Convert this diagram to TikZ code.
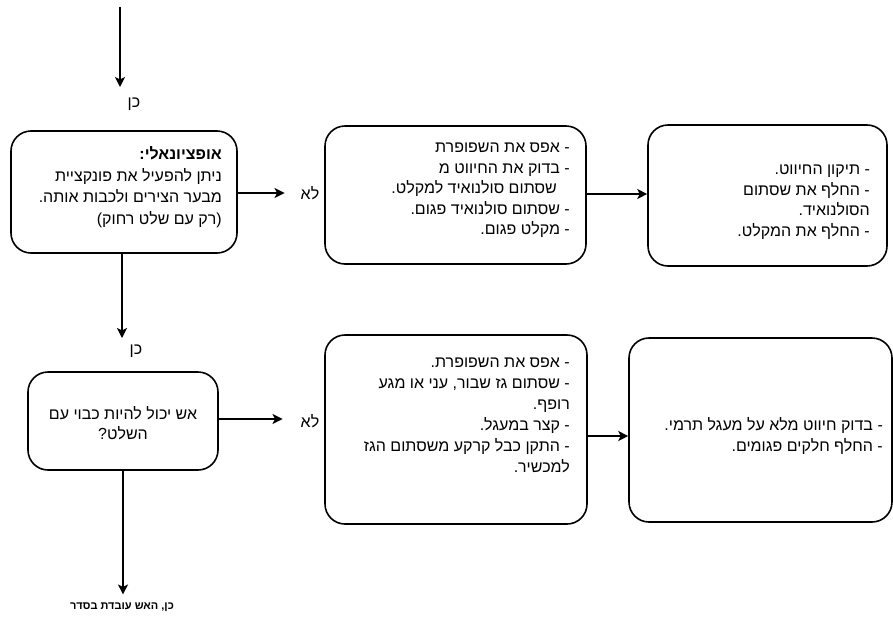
\documentclass[tikz,border=0pt]{standalone}
\usepackage{fontspec}
\setmainfont{Liberation Sans}[Script=Hebrew]
\TeXXeTstate=1
\usetikzlibrary{arrows.meta}
\tikzset{
  box/.style={draw, line width=1.6pt, rounded corners=20pt, inner sep=0pt},
  txt/.style={font=\fontsize{16}{20.5}\selectfont, align=right, inner sep=0pt, anchor=north east},
  ctxt/.style={font=\fontsize{16}{20.5}\selectfont, align=center, inner sep=0pt},
  lab/.style={font=\fontsize{16}{19}\selectfont, inner sep=0pt},
  conn/.style={line width=1.5pt, -{Stealth[length=10pt,width=10pt,inset=2.5pt]}},
  thick conn/.style={line width=2.6pt, -{Stealth[length=10pt,width=10pt,inset=2.5pt]}}
}
\begin{document}
\begin{tikzpicture}[x=1pt,y=-1pt]
\useasboundingbox (0,0) rectangle (893,624);
% boxes
\node[box, minimum width=226pt, minimum height=122pt] (b1) at (124,192) {};
\node[box, minimum width=261pt, minimum height=138pt] (b2) at (455.5,195) {};
\node[box, minimum width=239pt, minimum height=141pt] (b3) at (767.5,195.5) {};
\node[box, minimum width=190pt, minimum height=98pt] (b4) at (123,421) {};
\node[box, minimum width=262pt, minimum height=189pt] (b5) at (456,429.5) {};
\node[box, minimum width=263pt, minimum height=184pt] (b6) at (760.5,430) {};
% texts
\node[txt, font=\fontsize{16}{21.7}\selectfont] (t1) at (222,144) {\strut\beginR\textbf{אופציונאלי:}\endR\\
\beginR ניתן להפעיל את פונקציית\endR\\
\beginR מבער הצירים ולכבות אותה.\endR\\
\beginR(רק עם שלט רחוק)\endR};
\node[txt] (t2) at (570,138) {\strut\beginR - אפס את השפופרת\endR\\
\beginR - בדוק את החיווט מ\endR\\
\beginR\hspace*{13pt}שסתום סולנואיד למקלט.\endR\\
\beginR - שסתום סולנואיד פגום.\endR\\
\beginR - מקלט פגום.\endR};
\node[txt] (t3) at (870,160) {\strut\beginR - תיקון החיווט.\endR\\
\beginR - החלף את שסתום\endR\\
\beginR הסולנואיד.\endR\\
\beginR - החלף את המקלט.\endR};
\node[ctxt] (t4) at (123,423) {\beginR אש יכול להיות כבוי עם\endR\\
\beginR השלט?\endR};
\node[txt, font=\fontsize{16}{21}\selectfont] (t5) at (570,353) {\strut\beginR - אפס את השפופרת.\endR\\
\beginR - שסתום גז שבור, עני או מגע\endR\\
\beginR רופף.\endR\\
\beginR - קצר במעגל.\endR\\
\beginR - התקן כבל קרקע משסתום הגז\endR\\
\beginR למכשיר.\endR};
\node[txt] (t6) at (883,416) {\strut\beginR - בדוק חיווט מלא על מעגל תרמי.\endR\\
\beginR - החלף חלקים פגומים.\endR};
% labels
\node[lab] (yes1) at (134,104) {\beginR כן\endR};
\node[lab] (no1) at (310,193) {\beginR לא\endR};
\node[lab] (yes2) at (136,351) {\beginR כן\endR};
\node[lab] (no2) at (310,421) {\beginR לא\endR};
\node[font=\fontsize{11}{13}\selectfont\bfseries, inner sep=0pt] (done) at (122,607) {\beginR כן, האש עובדת בסדר\endR};
\coordinate (start) at (120,7);
% connectors
\draw[conn] (start) -- (start |- 0,87);
\draw[conn] (b1.east |- no1) -- ([xshift=-16pt]no1.west |- no1);
\draw[conn] (b2.east |- 0,194) -- (b3.west |- 0,194);
\draw[conn] (b1.south -| 122,0) -- (122,338);
\draw[thick conn] (b4.east |- 0,419) -- ([xshift=-18pt]no2.west |- 0,419);
\draw[conn, shorten >=8pt] (b4.south -| 123,0) -- (done.north -| 123,0);
\draw[conn] (b5.east |- 0,436) -- (b6.west |- 0,436);
\end{tikzpicture}
\end{document}
